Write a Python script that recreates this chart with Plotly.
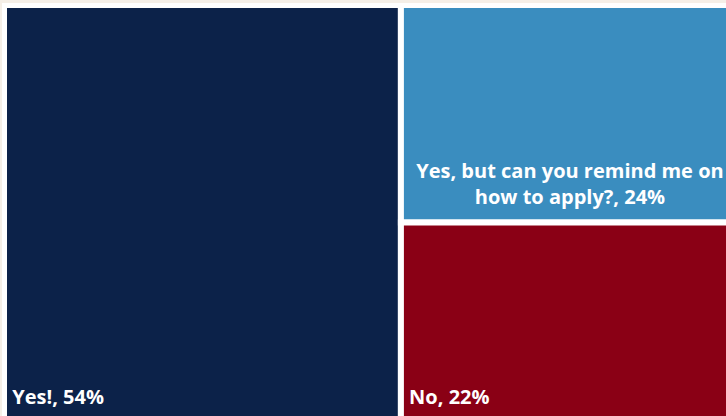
import plotly.graph_objects as go

labels = ["Yes!", "Yes, but can you remind me on<br>how to apply?", "No"]
values = [54, 24, 22]
colors = ["#0c2249", "#3a8dbf", "#8a0015"]

parents = [""] * len(labels)

no_pad = dict(t=0, l=0, r=0, b=0)
label_font = dict(family="Open Sans", size=20, color="white", weight="bold")
clear = ["rgba(0,0,0,0)"] * len(labels)


def text_layer(templates, position, y0):
    # transparent copy of the treemap that only carries labels,
    # its domain lifted a bit so the labels sit off the bottom edge
    return go.Treemap(
        labels=labels,
        parents=parents,
        values=values,
        sort=False,
        domain=dict(x=[0, 1], y=[y0, 1]),
        marker=dict(colors=clear, line=dict(width=0), pad=no_pad),
        textinfo="none",
        texttemplate=templates,
        textposition=position,
        textfont=label_font,
        pathbar=dict(visible=False),
        tiling=dict(packing="squarify", pad=0),
        hoverinfo="skip",
    )


fig = go.Figure()

# coloured tiles
fig.add_trace(go.Treemap(
    labels=labels,
    parents=parents,
    values=values,
    sort=False,
    marker=dict(colors=colors, line=dict(color="white", width=6), pad=no_pad),
    textinfo="none",
    texttemplate=[" "] * len(labels),
    pathbar=dict(visible=False),
    tiling=dict(packing="squarify", pad=0),
    hoverinfo="skip",
))

# labels: bottom-left for the two big tiles, centred for the two-line one
fig.add_trace(text_layer(["\u00a0%{label}, %{value}%", " ", "\u00a0%{label}, %{value}%"],
                         "bottom left", 0.022))
fig.add_trace(text_layer([" ", "%{label}, %{value}%", " "], "bottom center", 0.046))

# the chart runs a little past the right and bottom edges of the window
fig.update_layout(
    width=737,
    height=419,
    margin=dict(l=2, r=0, t=2, b=0),
    paper_bgcolor="white",
    showlegend=False,
)

page_js = (
    "document.body.style.margin = '3px 0 0 2px';"
    "document.body.style.overflow = 'hidden';"
    "document.body.style.background = '#f5efe7';"
)

fig.write_html("out.html", post_script=page_js)
